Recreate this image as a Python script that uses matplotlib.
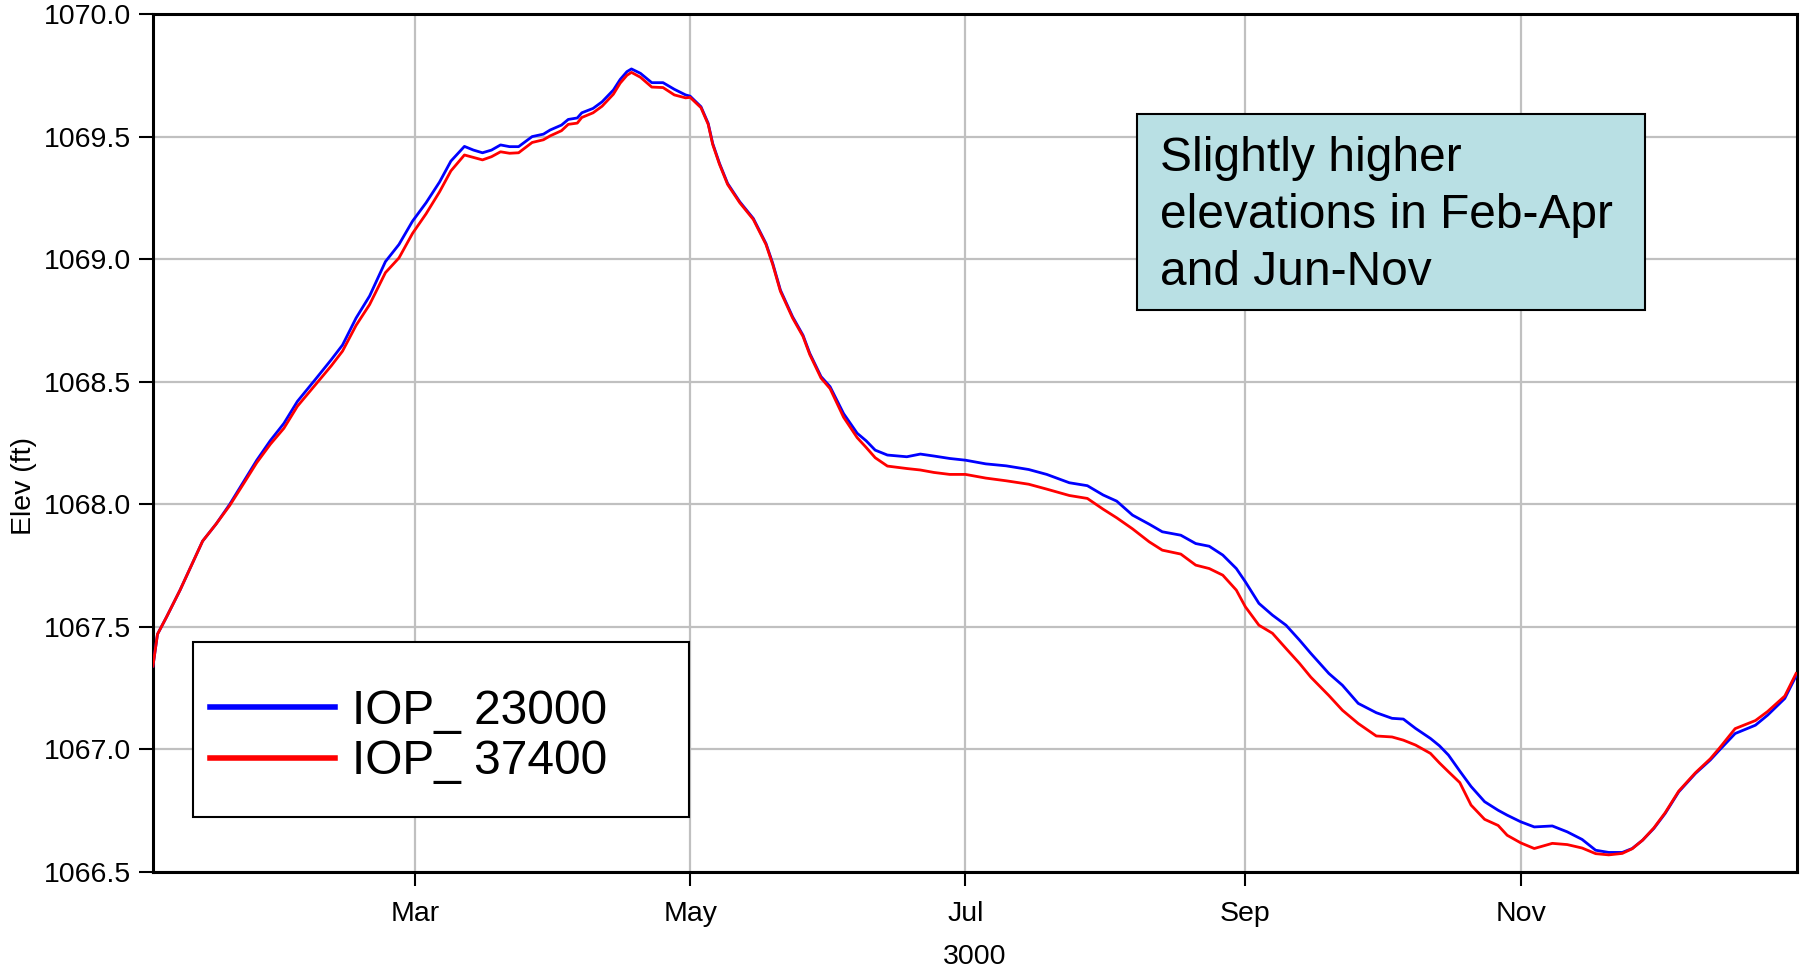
import numpy as np
import matplotlib
matplotlib.use("Agg")
import matplotlib.pyplot as plt
from matplotlib.patches import Rectangle

plt.rcParams['font.family'] = ['Liberation Sans', 'DejaVu Sans']

# day of year 3000 (Jan 1 = 0)
days = [1, 2, 4, 7, 9.5, 12, 15, 18, 21, 24, 27, 30, 33, 37, 40.5, 43, 46, 49,
        52.5, 55.5, 58.5, 61.5, 64.5, 67, 70, 72, 74, 76, 78, 80, 82, 85, 87.5,
        89, 91.5, 93, 95, 96, 98.5, 100.5, 103, 104.5, 106, 107, 109, 111.5,
        114, 116.5, 119, 120, 122.4, 124, 125, 126.5, 128.3, 131, 134, 136.8,
        138.3, 140, 142.7, 145, 146.5, 149, 151, 154, 157, 159, 161, 163.7,
        168, 171, 174, 177.5, 181, 185.5, 190, 195, 199, 204, 208, 211.5,
        214.5, 218, 221.7, 224.6, 228.7, 232, 235, 238, 241, 243, 246, 249,
        252, 255, 257.5, 261.5, 264.5, 268, 272, 275.5, 278, 280.7, 284, 286,
        288, 290.5, 293, 296, 299, 301, 304, 307, 311, 314.3, 317.6, 320.6,
        323.5, 326.5, 328.7, 331, 333.5, 336, 339, 342.7, 346, 348, 351.5,
        356, 358.7, 362.5, 365]

elev_23000 = [1067.34, 1067.47, 1067.54, 1067.65, 1067.75, 1067.85, 1067.92,
              1068.00, 1068.09, 1068.18, 1068.26, 1068.33, 1068.42, 1068.51,
              1068.59, 1068.65, 1068.76, 1068.85, 1068.99, 1069.06, 1069.155,
              1069.23, 1069.315, 1069.40, 1069.46, 1069.445, 1069.434,
              1069.445, 1069.466, 1069.459, 1069.459, 1069.50, 1069.51,
              1069.527, 1069.547, 1069.57, 1069.576, 1069.597, 1069.615,
              1069.642, 1069.69, 1069.733, 1069.765, 1069.776, 1069.758,
              1069.72, 1069.72, 1069.693, 1069.67, 1069.665, 1069.622,
              1069.554, 1069.472, 1069.391, 1069.309, 1069.234, 1069.166,
              1069.064, 1068.983, 1068.874, 1068.765, 1068.69, 1068.616,
              1068.521, 1068.48, 1068.37, 1068.29, 1068.259, 1068.221,
              1068.201, 1068.194, 1068.205, 1068.197, 1068.187, 1068.18,
              1068.165, 1068.157, 1068.142, 1068.122, 1068.088, 1068.076,
              1068.038, 1068.013, 1067.956, 1067.919, 1067.888, 1067.874,
              1067.84, 1067.829, 1067.793, 1067.738, 1067.684, 1067.596,
              1067.548, 1067.507, 1067.446, 1067.392, 1067.31, 1067.262,
              1067.188, 1067.15, 1067.127, 1067.124, 1067.086, 1067.045,
              1067.015, 1066.977, 1066.912, 1066.849, 1066.787, 1066.752,
              1066.732, 1066.705, 1066.684, 1066.688, 1066.664, 1066.633,
              1066.589, 1066.58, 1066.58, 1066.596, 1066.63, 1066.678,
              1066.739, 1066.827, 1066.902, 1066.957, 1066.997, 1067.065,
              1067.099, 1067.14, 1067.208, 1067.30]

elev_37400 = [1067.34, 1067.47, 1067.54, 1067.65, 1067.75, 1067.85, 1067.92,
              1067.995, 1068.082, 1068.17, 1068.245, 1068.31, 1068.40,
              1068.488, 1068.565, 1068.625, 1068.73, 1068.815, 1068.945,
              1069.005, 1069.105, 1069.185, 1069.275, 1069.36, 1069.425,
              1069.415, 1069.405, 1069.418, 1069.438, 1069.432, 1069.434,
              1069.476, 1069.487, 1069.503, 1069.524, 1069.55, 1069.555,
              1069.578, 1069.597, 1069.624, 1069.673, 1069.718, 1069.75,
              1069.762, 1069.742, 1069.702, 1069.70, 1069.67, 1069.658,
              1069.66, 1069.618, 1069.55, 1069.468, 1069.387, 1069.305,
              1069.23, 1069.162, 1069.06, 1068.978, 1068.869, 1068.76,
              1068.685, 1068.611, 1068.515, 1068.472, 1068.355, 1068.272,
              1068.232, 1068.19, 1068.156, 1068.146, 1068.14, 1068.13,
              1068.122, 1068.122, 1068.107, 1068.096, 1068.082, 1068.062,
              1068.036, 1068.024, 1067.98, 1067.945, 1067.90, 1067.847,
              1067.813, 1067.797, 1067.752, 1067.738, 1067.711, 1067.650,
              1067.582, 1067.507, 1067.474, 1067.412, 1067.351, 1067.295,
              1067.22, 1067.16, 1067.106, 1067.055, 1067.051, 1067.038,
              1067.018, 1066.984, 1066.945, 1066.909, 1066.865, 1066.773,
              1066.715, 1066.69, 1066.65, 1066.619, 1066.596, 1066.617,
              1066.612, 1066.598, 1066.575, 1066.57, 1066.576, 1066.595,
              1066.63, 1066.68, 1066.742, 1066.83, 1066.905, 1066.962,
              1067.005, 1067.085, 1067.118, 1067.155, 1067.218, 1067.31]

month_days = [59, 120, 181, 243, 304]
month_labels = ['Mar', 'May', 'Jul', 'Sep', 'Nov']
y_ticks = [1066.5, 1067.0, 1067.5, 1068.0, 1068.5, 1069.0, 1069.5, 1070.0]

fig = plt.figure(figsize=(18.08, 9.67), dpi=100)
ax = fig.add_axes([0.0846, 0.0982, 0.9093, 0.8873])

ax.plot(days, elev_23000, color='#0000ff', lw=2.0, label='IOP_ 23000', zorder=3)
ax.plot(days, elev_37400, color='#ff0000', lw=2.0, label='IOP_ 37400', zorder=3)

ax.set_xlim(1, 365.2)
ax.set_ylim(1066.5, 1070.0)
ax.set_xticks(month_days)
ax.set_xticklabels(month_labels)
ax.set_yticks(y_ticks)
ax.set_yticklabels([f'{v:.1f}' for v in y_ticks])
ax.grid(True, color='#c0c0c0', lw=1.6, zorder=0)
ax.set_axisbelow(True)

for s in ax.spines.values():
    s.set_linewidth(2.2)
ax.tick_params(axis='both', direction='out', length=10, width=1.5,
               labelsize=20.5, pad=6)
ax.tick_params(axis='x', pad=11)
ax.set_xlabel('3000', fontsize=20.5, labelpad=12)
ax.set_ylabel('Elev (ft)', fontsize=20.5)
ax.yaxis.set_label_coords(-0.0706, 0.45)

# legend: frame drawn separately so the box size matches
ax.add_patch(Rectangle((0.0243, 0.0641), 0.302, 0.204, transform=ax.transAxes,
                       facecolor='white', edgecolor='black', lw=1.5, zorder=4))
leg = ax.legend(loc='center left', bbox_to_anchor=(0.0347, 0.158),
                fontsize=34.5, handlelength=2.6, handletextpad=0.37,
                borderpad=0, labelspacing=0.12, borderaxespad=0,
                frameon=False)
leg.set_zorder(5)
for ln in leg.get_lines():
    ln.set_linewidth(4)

ax.add_patch(Rectangle((0.5988, 0.655), 0.3088, 0.229, transform=ax.transAxes,
                       facecolor='#b9e0e4', edgecolor='black', lw=1.5, zorder=4))
ax.text(0.6124, 0.858, 'Slightly higher\nelevations in Feb-Apr\nand Jun-Nov',
        transform=ax.transAxes, fontsize=34.5, va='top', ha='left',
        linespacing=1.35, zorder=5)

fig.savefig('out.png', dpi=100)
